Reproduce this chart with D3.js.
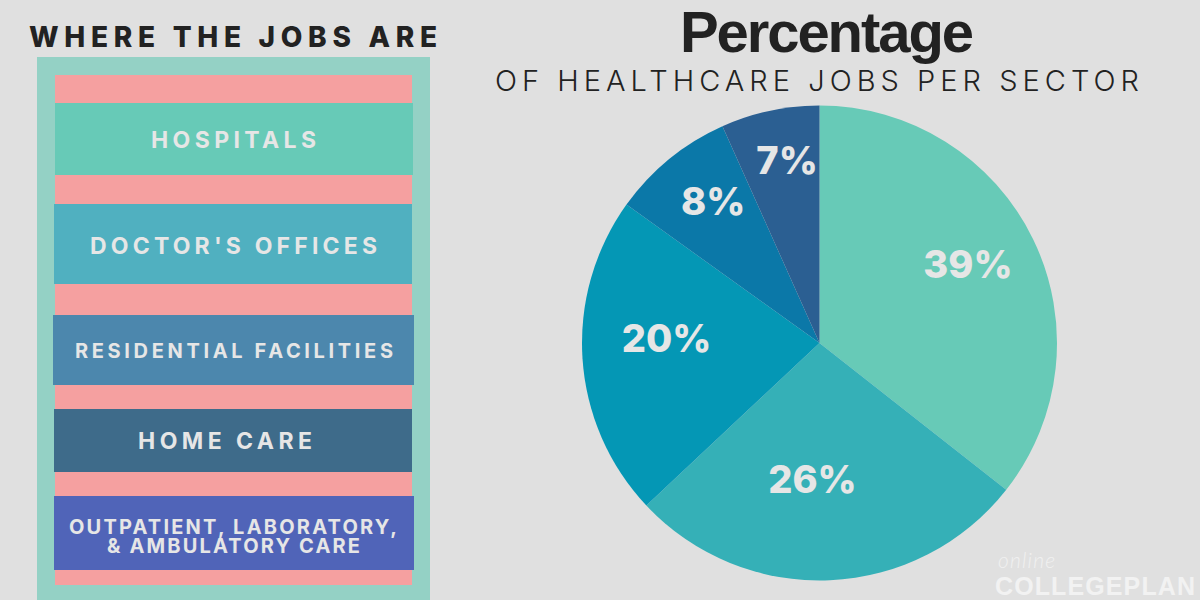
<!DOCTYPE html>
<html>
<head>
<meta charset="utf-8">
<script src="https://cdnjs.cloudflare.com/ajax/libs/d3/7.8.5/d3.min.js"></script>
<style>
  html, body { margin: 0; padding: 0; background: #e0e0e0; }
  svg { display: block; }
  text { font-family: Inter, "Open Sans", sans-serif; }
</style>
</head>
<body>
<svg id="chart"></svg>
<script>
// Drawn slice shares, read from the angles in the picture. The printed labels
// below don't quite agree with the drawn angles, so both are kept.
const sliceShares = [35.6, 27.4, 21.9, 8.4, 6.7];
const sliceLabels = ["39%", "26%", "20%", "8%", "7%"];
const sliceColors = ["#67cab7", "#35b0b7", "#0497b5", "#0b78a8", "#2b5f92"];

const sectorNames = [
  ["HOSPITALS"],
  ["DOCTOR'S OFFICES"],
  ["RESIDENTIAL FACILITIES"],
  ["HOME CARE"],
  ["OUTPATIENT, LABORATORY,", "& AMBULATORY CARE"]
];
const sectorColors = ["#67cab7", "#50b0c0", "#4c87ad", "#3e6b8a", "#5064b8"];

const width = 1200;
const height = 600;

const svg = d3.select("#chart").attr("width", width).attr("height", height);
svg.append("rect").attr("width", width).attr("height", height).attr("fill", "#e0e0e0");

// Fit a text to a measured width
function label(parent, str, x, y, w, size, weight, fill) {
  return parent.append("text")
    .attr("x", x)
    .attr("y", y)
    .attr("textLength", w)
    .attr("lengthAdjust", "spacing")
    .attr("font-size", size)
    .attr("font-weight", weight)
    .attr("fill", fill)
    .text(str);
}

// Left panel
const panel = svg.append("g");
panel.append("rect").attr("x", 37).attr("y", 57).attr("width", 393).attr("height", 543).attr("fill", "#94d1c5");
panel.append("rect").attr("x", 55).attr("y", 75).attr("width", 357).attr("height", 510).attr("fill", "#f5a0a0");

const bandBoxes = [
  { x: 55, y: 103, w: 358, h: 72 },
  { x: 54, y: 204, w: 358, h: 80 },
  { x: 53, y: 315, w: 361, h: 70 },
  { x: 54, y: 409, w: 358, h: 63 },
  { x: 54, y: 496, w: 360, h: 74 }
];
const bandText = [
  [{ x: 151, y: 148, w: 165, size: 23 }],
  [{ x: 90, y: 254, w: 287, size: 23 }],
  [{ x: 75, y: 358, w: 318, size: 20 }],
  [{ x: 138, y: 449, w: 174, size: 23 }],
  [{ x: 69, y: 534, w: 328, size: 20 }, { x: 107, y: 553, w: 253, size: 20 }]
];

panel.selectAll("rect.band")
  .data(sectorNames)
  .enter()
  .append("rect")
  .attr("class", "band")
  .attr("x", (d, i) => bandBoxes[i].x)
  .attr("y", (d, i) => bandBoxes[i].y)
  .attr("width", (d, i) => bandBoxes[i].w)
  .attr("height", (d, i) => bandBoxes[i].h)
  .attr("fill", (d, i) => sectorColors[i]);

// Two-line names go in one text element as tspans
sectorNames.forEach((lines, i) => {
  const t = panel.append("text")
    .attr("font-size", bandText[i][0].size)
    .attr("font-weight", 700)
    .attr("fill", "#e6e6e6");
  lines.forEach((line, j) => {
    const pos = bandText[i][j];
    t.append("tspan")
      .attr("x", pos.x)
      .attr("y", pos.y)
      .attr("textLength", pos.w)
      .attr("lengthAdjust", "spacing")
      .text(line);
  });
});

// Headings
label(svg, "WHERE THE JOBS ARE", 29, 47, 408, 28, 800, "#222222");
label(svg, "Percentage", 680, 52, 294, 58, 700, "#222222")
  .style("font-family", "'Liberation Sans', sans-serif");
label(svg, "OF HEALTHCARE JOBS PER SECTOR", 495, 91, 644, 29, 300, "#222222");

// Pie
const radius = 237.5;
const pieG = svg.append("g").attr("transform", "translate(819.5,343)");

const pie = d3.pie().sort(null).value(d => d);
const arc = d3.arc().innerRadius(0).outerRadius(radius);
const slices = pie(sliceShares);

pieG.selectAll("path")
  .data(slices)
  .enter()
  .append("path")
  .attr("d", arc)
  .attr("fill", (d, i) => sliceColors[i]);

// Label anchors sit at varying distances from the centre in the reference
const labelRadius = [168, 136, 153, 177, 186];
const labelTurn = [-2, 5.5, 5.7, 2.3, 2];

pieG.selectAll("text")
  .data(slices)
  .enter()
  .append("text")
  .attr("transform", (d, i) => {
    const a = (d.startAngle + d.endAngle) / 2 + labelTurn[i] * Math.PI / 180;
    return `translate(${labelRadius[i] * Math.sin(a)},${-labelRadius[i] * Math.cos(a)})`;
  })
  .attr("dy", "0.36em")
  .attr("text-anchor", "middle")
  .attr("font-size", 38)
  .attr("font-weight", 800)
  .attr("fill", "#e6e6e6")
  .text((d, i) => sliceLabels[i]);

// Watermark
label(svg, "online", 998, 568, 57, 21, 300, "#f0f0f0")
  .style("font-family", "Lato, sans-serif")
  .style("font-style", "italic");
label(svg, "COLLEGEPLAN", 995, 594.5, 200, 25, 700, "#f2f2f2")
  .style("font-family", "'Liberation Sans', sans-serif");
</script>
</body>
</html>
